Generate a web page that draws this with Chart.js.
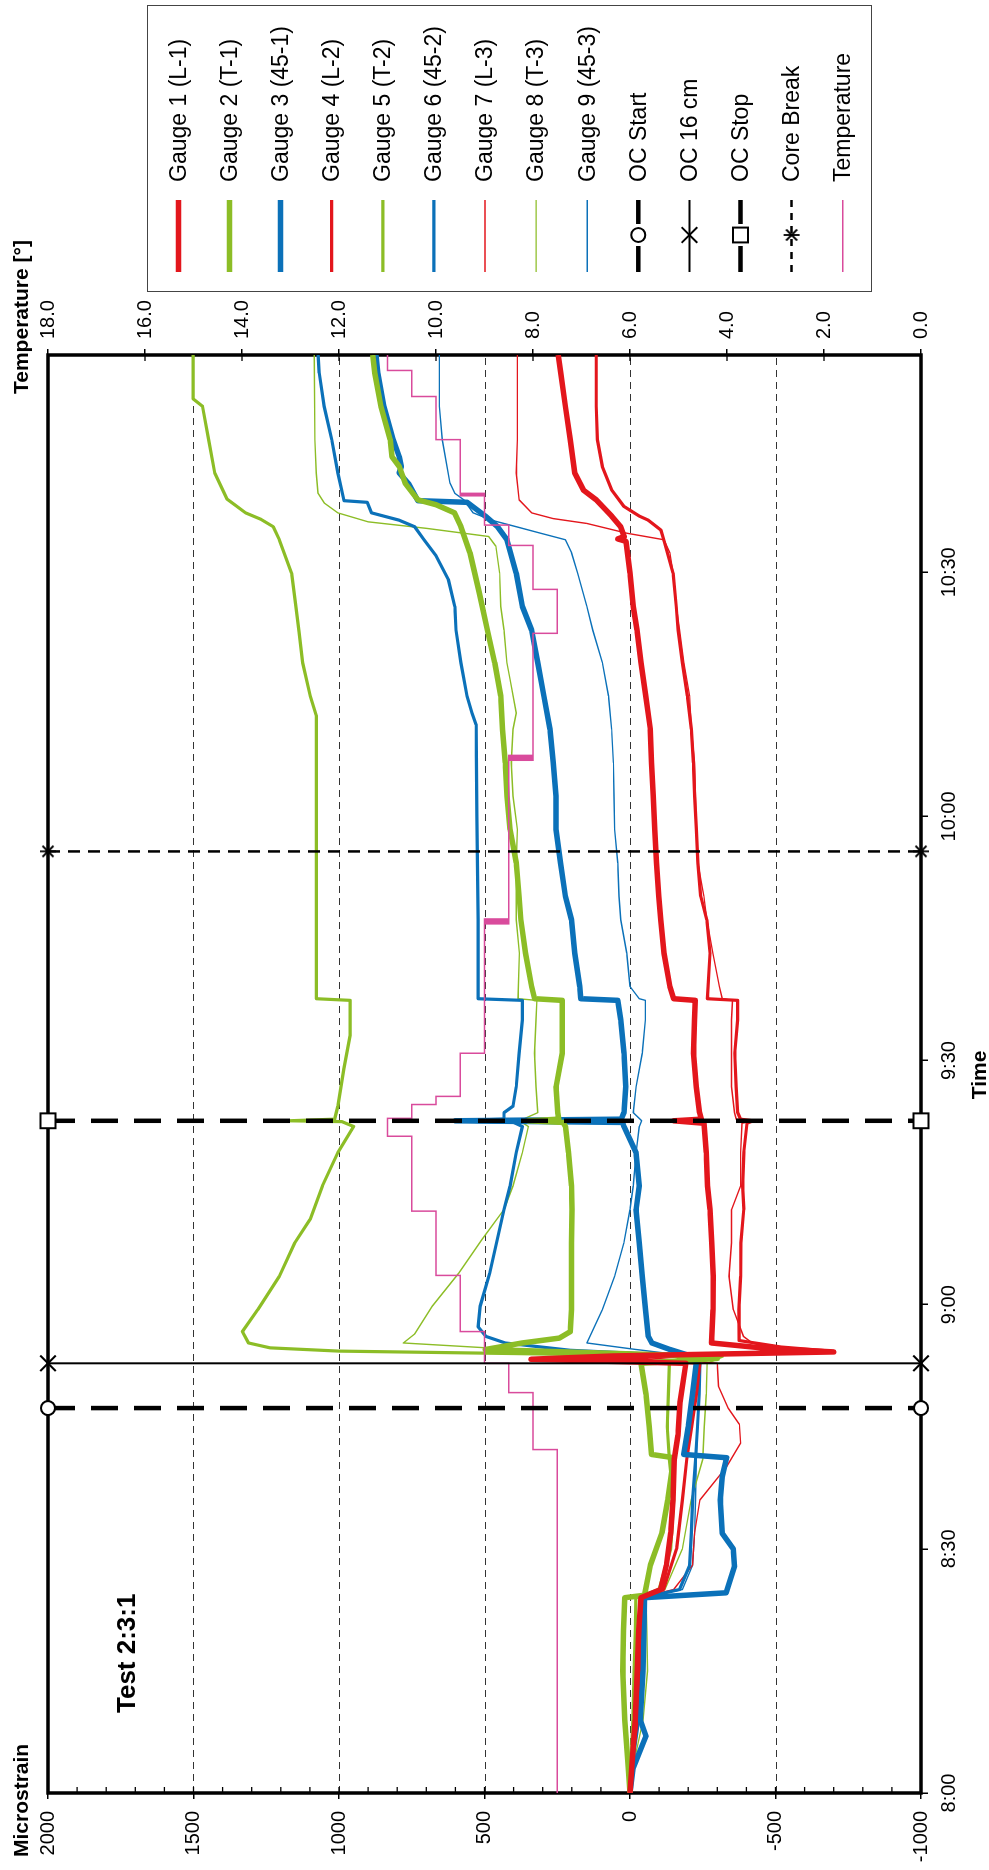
<!DOCTYPE html>
<html>
<head>
<meta charset="utf-8">
<script src="https://cdn.jsdelivr.net/npm/chart.js@4.4.1/dist/chart.umd.min.js"></script>
<style>
  html, body { margin: 0; padding: 0; background: #fff; }
  body { width: 989px; height: 1870px; overflow: hidden; position: relative; }
  /* chart is drawn landscape, then turned a quarter turn counter-clockwise */
  #wrap { position: absolute; left: 0; top: 0; width: 1870px; height: 989px;
          transform-origin: 0 0; transform: translate(0, 1870px) rotate(-90deg); }
  canvas { display: block; }
</style>
</head>
<body>
<div id="wrap"><canvas id="chart" width="1870" height="989"></canvas></div>
<script>
const FONT = "'Liberation Sans', Arial, sans-serif";

// time in minutes after 8:00
const timeLabels = ['8:00', '8:30', '9:00', '9:30', '10:00', '10:30'];
const timeEnd = 176.7;
const strainGrid = [1500, 1000, 500, 0, -500];

// [minutes, microstrain]
const gauge1 = [[0,0],[4,-8],[9,-18],[15,-25],[20,-30],[24,-38],[25,-105],[28,-125],[32,-140],[36,-148],[41,-152],[44,-165],[48,-172],[52.8,-192],[53.3,340],[53.7,60],[54.2,-700],[54.6,-480],[55.3,-280],[59.4,-285],[63.5,-286],[67.6,-281],[71.7,-275],[74.6,-266],[78.7,-262],[82.3,-254],[82.6,-150],[82.8,-245],[83.6,-239],[86.8,-228],[90.9,-218],[95,-222],[97.4,-224],[97.6,-150],[99.1,-137],[103.2,-117],[107.3,-106],[110.2,-99],[114.3,-91],[118.4,-85],[122.5,-80],[126.6,-74],[130.7,-70],[134.8,-54],[138.9,-38],[142.9,-24],[145.8,-11],[149.9,0],[153.8,14],[154.1,42],[154.4,20],[155.6,32],[156.9,63],[158.9,116],[160.1,160],[162.2,190],[166.3,205],[170.4,222],[174.5,238],[176.7,247]];
const gauge2 = [[0,0],[4,8],[9,18],[15,25],[20,22],[24,18],[24.3,-50],[28,-70],[32,-110],[36,-130],[41.2,-150],[41.6,-74],[45,-66],[49,-55],[52.8,-38],[53.4,-300],[53.8,-150],[54.5,497],[55.3,370],[55.9,243],[56.7,205],[59.4,201],[63.5,201],[67.6,201],[71.7,199],[74.6,201],[78.7,211],[81.9,222],[82.4,230],[82.6,349],[82.8,245],[83.6,248],[86.8,254],[90.9,233],[95,233],[97.4,233],[97.6,328],[99.1,338],[103.2,359],[107.3,375],[110.2,381],[114.3,391],[118.4,412],[122.5,423],[126.6,429],[130.7,438],[134.8,444],[138.9,465],[142.9,490],[147.5,518],[152.4,550],[155.6,581],[157.3,603],[158.3,666],[158.9,729],[160.9,772],[163,793],[164.2,818],[166.3,824],[170.4,856],[174.5,877],[176.7,884]];
const gauge3 = [[0,0],[3,-10],[7,-55],[9,-35],[15,-45],[20,-48],[24,-50],[24.6,-330],[27.8,-359],[30,-355],[31.9,-317],[36,-310],[38.9,-317],[41.2,-332],[41.6,-185],[45,-200],[49,-215],[52.8,-228],[53.8,-200],[54.5,-137],[55.3,-75],[56.1,-63],[59.4,-53],[63.5,-42],[67.6,-32],[71.7,-21],[74.6,-32],[78.7,-21],[81.9,21],[82.4,25],[82.6,600],[82.8,30],[83.6,21],[86.8,15],[90.9,21],[95,32],[97.4,42],[97.6,169],[99.1,173],[103.2,190],[107.3,201],[110.2,222],[114.3,239],[118.4,254],[122.5,254],[126.6,264],[130.7,275],[134.8,296],[138.9,317],[142.9,338],[145.8,370],[149.9,391],[154,423],[155.6,455],[156.9,497],[158.6,560],[158.8,729],[160.9,761],[162.2,793],[163,786],[164.2,793],[166.3,814],[170.4,846],[174.5,867],[176.7,873]];
const gauge4 = [[0,0],[4,-8],[9,-25],[15,-32],[20,-36],[24,-40],[25,-115],[30,-160],[36,-180],[41,-195],[45,-212],[49,-228],[52.8,-240],[53.4,60],[53.8,-250],[54.3,-690],[54.8,-520],[55.6,-375],[59.4,-374],[63.5,-380],[67.6,-381],[71.7,-391],[74.6,-387],[78.7,-391],[82.3,-402],[82.6,-423],[82.8,-380],[83.6,-370],[86.8,-365],[90.9,-360],[95,-370],[97.4,-370],[97.6,-266],[103.2,-275],[107.3,-264],[110.2,-243],[114.3,-233],[118.4,-228],[122.5,-222],[126.6,-218],[130.7,-211],[134.8,-197],[138.9,-180],[142.9,-165],[145.8,-159],[149.9,-148],[154,-116],[155.2,-106],[156.4,-63],[156.9,-32],[158.1,21],[160.1,63],[163,95],[166.3,112],[170.4,116],[176.7,116]];
const gauge5 = [[0,0],[4,-4],[9,-10],[15,-14],[20,-18],[24,-20],[25,-100],[30,-140],[36,-150],[41,-135],[45,-128],[49,-132],[52.8,-135],[53.6,-300],[54,400],[54.3,1000],[54.7,1237],[55.3,1311],[56.7,1332],[59.4,1279],[63.5,1205],[67.6,1152],[70.5,1099],[74.6,1057],[78.7,1004],[81.9,950],[82.5,990],[82.6,1173],[82.8,1015],[84.4,1004],[89,983],[93.1,962],[97.4,962],[97.6,1078],[107.3,1078],[120,1078],[132.4,1078],[134.8,1099],[138.9,1125],[142.6,1137],[145.8,1148],[149.9,1163],[154,1205],[155.6,1226],[156.5,1268],[157.3,1321],[159,1385],[162.2,1427],[166.3,1448],[170.4,1469],[171.3,1501],[176.7,1501]];
const gauge6 = [[0,0],[4,-10],[9,-30],[15,-40],[20,-42],[24,-45],[25,-170],[28,-205],[32,-211],[36,-215],[41,-225],[45,-232],[49,-238],[52.8,-240],[53.8,-150],[54.4,205],[55.3,429],[56.1,495],[57.3,522],[59.8,515],[63.9,482],[68,456],[71.7,433],[74.6,412],[78.7,391],[81.9,370],[82.4,400],[82.6,624],[82.8,433],[83.6,433],[84.4,402],[86.8,391],[90.9,381],[95,370],[97.4,370],[97.6,522],[107.3,522],[120,526],[131.3,529],[132.7,543],[134.8,560],[138.9,581],[142.9,598],[145.8,602],[149.1,624],[152,666],[154,708],[155.6,740],[156.4,793],[157.3,888],[158.6,903],[158.8,983],[162.2,1004],[166.3,1025],[170.4,1051],[174.5,1068],[176.7,1072]];
const gauge7 = [[0,0],[4,-5],[9,-18],[15,-26],[20,-30],[24,-32],[25,-150],[28,-215],[32,-222],[36,-240],[40,-330],[43,-380],[45.3,-376],[47.3,-337],[50,-304],[52.8,-300],[53.5,-60],[54.3,-520],[55.3,-420],[56.1,-390],[59.4,-355],[63.5,-340],[67.6,-349],[71.7,-349],[74.6,-380],[78.7,-380],[82.3,-385],[82.6,-425],[82.8,-365],[83.6,-359],[86.8,-349],[90.9,-349],[95,-349],[97.4,-352],[97.6,-317],[99.1,-307],[103.2,-285],[107.3,-264],[110.2,-254],[114.3,-233],[118.4,-228],[126.6,-222],[130.7,-211],[134.8,-205],[138.9,-185],[142.9,-170],[145.8,-159],[149.9,-148],[152.4,-137],[154,-116],[154.8,11],[156,148],[156.6,264],[157.3,338],[158.9,381],[162.2,391],[166.3,387],[176.7,387]];
const gauge8 = [[0,0],[4,-15],[9,-45],[15,-60],[20,-58],[24,-55],[25,-120],[30,-180],[36,-210],[41,-250],[45,-255],[49,-262],[52.8,-265],[53.6,-320],[54.3,300],[55.3,779],[56.4,740],[59.8,680],[63.9,588],[68,509],[71.7,433],[74.6,402],[78.7,370],[81.9,349],[82.6,380],[83.6,317],[86.8,323],[90.9,328],[95,323],[97.4,320],[97.6,385],[103.2,380],[107.3,391],[110.2,391],[114.3,391],[118.4,387],[122.5,402],[126.6,408],[130.7,402],[132.7,391],[136.8,412],[138.9,423],[142.9,433],[145.8,444],[149.9,448],[153.2,461],[154.4,486],[155.4,700],[156.2,900],[157.3,1004],[158.5,1050],[159.7,1072],[162.2,1078],[166.3,1083],[176.7,1085]];
const gauge9 = [[0,0],[4,-8],[9,-25],[15,-35],[20,-38],[24,-40],[25,-180],[28,-215],[32,-222],[36,-225],[41,-228],[45,-232],[49,-235],[52.8,-240],[53.8,-180],[54.5,-20],[55.3,148],[59.4,95],[63.5,53],[67.6,21],[71.7,0],[74.6,-11],[78.7,-21],[81.9,-32],[82.6,-40],[83.6,-11],[86.8,-21],[90.9,-42],[95,-53],[97.4,-53],[97.6,-32],[99.1,0],[103.2,11],[107.3,32],[110.2,38],[114.3,42],[118.4,53],[122.5,55],[126.6,57],[130.7,63],[134.8,74],[138.9,95],[142.9,128],[145.8,148],[149.9,180],[152.4,201],[154,222],[154.8,307],[155.6,391],[156.4,476],[157.3,539],[158.9,571],[159.7,602],[161,619],[166.3,645],[170.4,655],[176.7,655]];

// [minutes, degrees], each value holds until the next point
const temperature = [[0,7.5],[42.2,8],[49.2,8.5],[52.8,9],[56.7,9.5],[63.6,10],[71.5,10.5],[80.7,11],[82.9,10.5],[84.6,10],[85.6,9.5],[90.9,9],[106.8,8.5],[106.95,9],[107.1,8.5],[107.25,9],[107.4,8.5],[126.9,8],[127.05,8.5],[127.2,8],[127.35,8.5],[127.5,8],[142.5,7.5],[147.9,8],[153.3,8.5],[155.8,9],[159.4,9.5],[159.55,9],[159.7,9.5],[166.3,10],[171.6,10.5],[174.8,11],[176.7,11]];

// event times, minutes after 8:00
const ocStart = 47.3, oc16 = 52.8, ocStop = 82.6, coreBreak = 115.7;

const RED = '#E3161C', GREEN = '#8CBD26', BLUE = '#0B71B9', PINK = '#D94B9C';
const THICK = 5.5, MID = 3.2, THIN = 1.4;

const pts = arr => arr.map(([x, y]) => ({ x, y }));

// "*" marker: an x with a line along the event line
const star = document.createElement('canvas');
star.width = star.height = 18;
{
  const g = star.getContext('2d');
  g.strokeStyle = '#000'; g.lineWidth = 1.8;
  g.beginPath();
  g.moveTo(3.5, 3.5); g.lineTo(14.5, 14.5);
  g.moveTo(14.5, 3.5); g.lineTo(3.5, 14.5);
  g.moveTo(9, 1); g.lineTo(9, 17);
  g.stroke();
}

const gauge = (label, data, color, width) => ({
  label, data: pts(data), borderColor: color, backgroundColor: color, borderWidth: width,
  pointRadius: 0, borderJoinStyle: 'round', order: 2, yAxisID: 'y'
});
const event = (label, t, o) => Object.assign({
  label, data: [{ x: t, y: 2000 }, { x: t, y: -1000 }], yAxisID: 'y', order: 0, clip: false,
  borderColor: '#000', borderCapStyle: 'butt', pointBackgroundColor: '#fff',
  pointBorderColor: '#000', pointBorderWidth: 2
}, o);

const datasets = [
  gauge('Gauge 1 (L-1)', gauge1, RED, THICK),
  gauge('Gauge 2 (T-1)', gauge2, GREEN, THICK),
  gauge('Gauge 3 (45-1)', gauge3, BLUE, THICK),
  gauge('Gauge 4 (L-2)', gauge4, RED, MID),
  gauge('Gauge 5 (T-2)', gauge5, GREEN, MID),
  gauge('Gauge 6 (45-2)', gauge6, BLUE, MID),
  gauge('Gauge 7 (L-3)', gauge7, RED, THIN),
  gauge('Gauge 8 (T-3)', gauge8, GREEN, THIN),
  gauge('Gauge 9 (45-3)', gauge9, BLUE, THIN),
  event('OC Start', ocStart, { borderWidth: 4.5, borderDash: [27, 16], pointStyle: 'circle', pointRadius: 7, legendSegs: [[1598, 1624], [1646, 1670]] }),
  event('OC 16 cm', oc16, { borderWidth: 2, pointStyle: 'crossRot', pointRadius: 11, legendSegs: [[1598, 1670]] }),
  event('OC Stop', ocStop, { borderWidth: 4.5, borderDash: [27, 16], pointStyle: 'rect', pointRadius: 10.5, legendSegs: [[1598, 1624], [1646, 1670]] }),
  event('Core Break', coreBreak, { borderWidth: 2.5, borderDash: [12, 8], pointStyle: star, pointRadius: 9, legendDash: [7, 6], legendSegs: [[1598, 1670]] }),
  { label: 'Temperature', data: pts(temperature), yAxisID: 'y2', stepped: true, borderColor: PINK,
    borderWidth: 1.5, pointRadius: 0, order: 1 }
];

function marker(ctx, ds, x, y) {
  const st = ds.pointStyle, r = ds.pointRadius;
  ctx.save();
  ctx.setLineDash([]);
  ctx.strokeStyle = '#000'; ctx.fillStyle = '#fff'; ctx.lineWidth = 2;
  if (st === 'circle') {
    ctx.beginPath(); ctx.arc(x, y, r, 0, Math.PI * 2); ctx.fill(); ctx.stroke();
  } else if (st === 'rect') {
    const s = r * Math.SQRT1_2;
    ctx.beginPath(); ctx.rect(x - s, y - s, 2 * s, 2 * s); ctx.fill(); ctx.stroke();
  } else if (st === 'crossRot') {
    const s = r * Math.SQRT1_2;
    ctx.beginPath(); ctx.moveTo(x - s, y - s); ctx.lineTo(x + s, y + s);
    ctx.moveTo(x + s, y - s); ctx.lineTo(x - s, y + s); ctx.stroke();
  } else if (st) {
    ctx.drawImage(st, x - st.width / 2, y - st.height / 2);
  }
  ctx.restore();
}

const decor = {
  id: 'decor',
  beforeDatasetsDraw(chart) {
    const { ctx, chartArea: a, scales: { y, y2 } } = chart;
    ctx.save();
    // dashed grid lines
    ctx.strokeStyle = '#333'; ctx.lineWidth = 1; ctx.setLineDash([7, 5]);
    strainGrid.forEach(v => {
      const py = Math.round(y.getPixelForValue(v)) + 0.5;
      ctx.beginPath(); ctx.moveTo(a.left, py); ctx.lineTo(a.right, py); ctx.stroke();
    });
    ctx.setLineDash([]);
    // minor ticks on the strain axis, pointing inwards
    ctx.strokeStyle = '#000'; ctx.lineWidth = 1.3;
    for (let v = -900; v < 2000; v += 100) {
      const py = y.getPixelForValue(v);
      ctx.beginPath(); ctx.moveTo(a.left, py); ctx.lineTo(a.left + 6, py); ctx.stroke();
    }
    // temperature ticks cross the right border
    for (let v = 2; v < 18; v += 2) {
      const py = y2.getPixelForValue(v);
      ctx.beginPath(); ctx.moveTo(a.right - 6, py); ctx.lineTo(a.right, py); ctx.stroke();
    }
    // heavy frame
    ctx.lineWidth = 3.5;
    ctx.strokeRect(a.left, a.top, a.right - a.left, a.bottom - a.top);
    ctx.restore();
  },
  afterDraw(chart) {
    const { ctx } = chart;
    ctx.save();
    ctx.fillStyle = '#000';
    ctx.textBaseline = 'alphabetic';
    ctx.font = `bold 21px ${FONT}`;
    ctx.textAlign = 'left';
    ctx.fillText('Microstrain', 13, 28);
    ctx.fillText('Temperature [°]', 1476, 28);
    ctx.textAlign = 'center';
    ctx.fillText('Time', 795, 986);
    ctx.textAlign = 'left';
    ctx.font = `bold 26px ${FONT}`;
    ctx.fillText('Test 2:3:1', 157, 135);

    // legend
    ctx.strokeStyle = '#444'; ctx.lineWidth = 1;
    ctx.strokeRect(1578.5, 147.5, 286, 724);
    ctx.font = `23px ${FONT}`;
    ctx.textBaseline = 'middle';
    chart.data.datasets.forEach((ds, i) => {
      const yc = 178.4 + 51.1 * i;
      ctx.save();
      ctx.strokeStyle = ds.borderColor; ctx.lineWidth = ds.borderWidth; ctx.lineCap = 'butt';
      ctx.setLineDash(ds.legendDash || []);
      (ds.legendSegs || [[1598, 1670]]).forEach(([x0, x1]) => {
        ctx.beginPath(); ctx.moveTo(x0, yc); ctx.lineTo(x1, yc); ctx.stroke();
      });
      ctx.restore();
      if (ds.pointStyle) marker(ctx, ds, 1635, yc);
      ctx.fillStyle = '#000';
      ctx.fillText(ds.label, 1688, yc + 1);
    });
    ctx.restore();
  }
};

Chart.defaults.font.family = FONT;
Chart.defaults.font.size = 20;
Chart.defaults.color = '#000';

new Chart(document.getElementById('chart'), {
  type: 'line',
  data: { datasets },
  options: {
    responsive: false,
    animation: false,
    devicePixelRatio: 1,
    events: [],
    layout: { padding: { top: 48, left: 0, right: 0, bottom: 0 } },
    elements: { line: { tension: 0 } },
    plugins: { legend: { display: false }, tooltip: { enabled: false } },
    scales: {
      x: {
        type: 'linear', position: 'bottom', min: 0, max: timeEnd,
        afterFit: s => { s.height = 68; },
        ticks: { stepSize: 30, includeBounds: false, maxRotation: 0, autoSkip: false, padding: 9,
                 callback: (v, i) => timeLabels[i] },
        grid: { drawOnChartArea: false, tickLength: 7, tickColor: '#000', lineWidth: 1.5 },
        border: { display: false }
      },
      y: {
        type: 'linear', position: 'left', min: -1000, max: 2000,
        afterFit: s => { s.width = 77; },
        ticks: { stepSize: 500, includeBounds: false, autoSkip: false, padding: 12, callback: v => String(v) },
        grid: { drawOnChartArea: false, tickLength: 6, tickColor: '#000', lineWidth: 1.5 },
        border: { display: false }
      },
      y2: {
        type: 'linear', position: 'right', min: 0, max: 18,
        afterFit: s => { s.width = 355; },
        ticks: { stepSize: 2, includeBounds: false, autoSkip: false, padding: 10, callback: v => v.toFixed(1) },
        grid: { drawOnChartArea: false, tickLength: 6, tickColor: '#000', lineWidth: 1.5 },
        border: { display: false }
      }
    }
  },
  plugins: [decor]
});
</script>
</body>
</html>
